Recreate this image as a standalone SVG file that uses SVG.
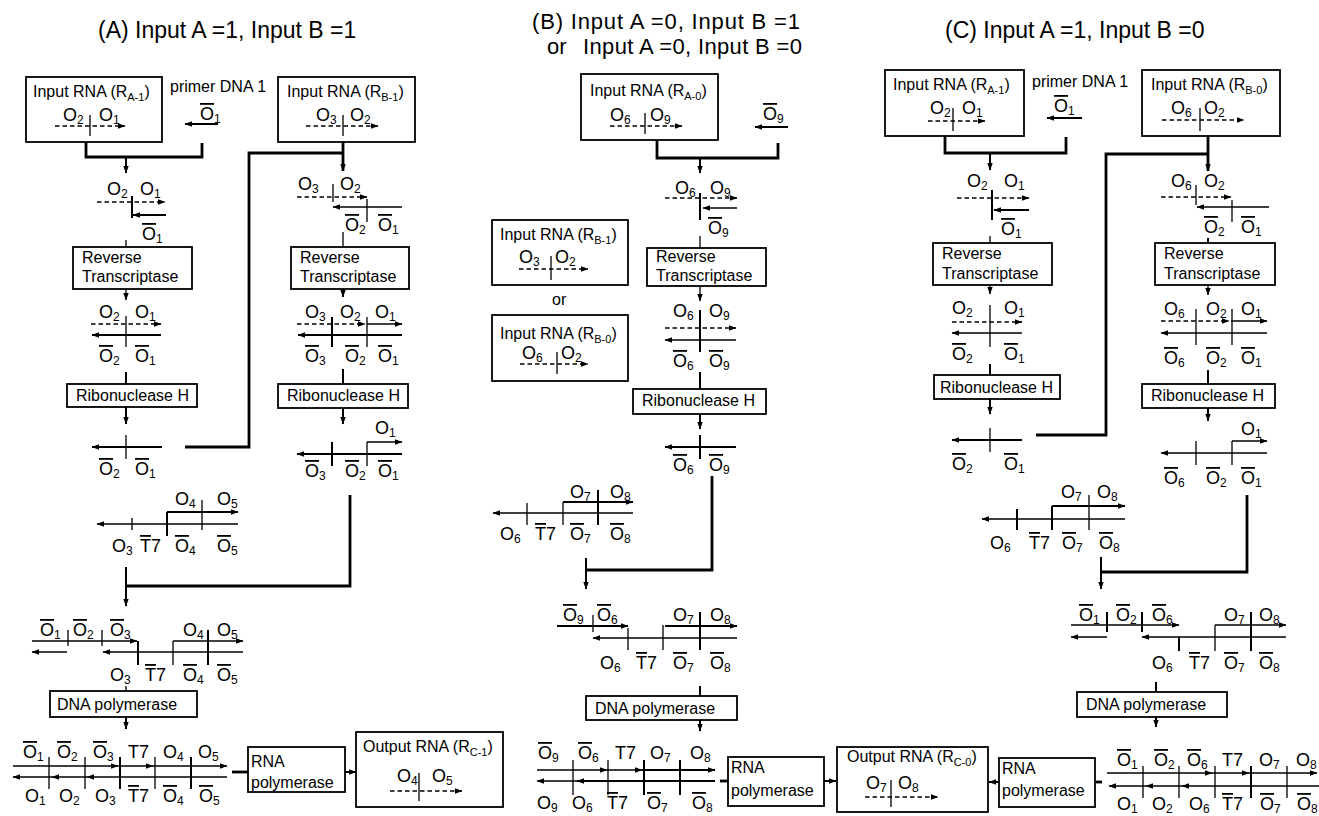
<svg xmlns="http://www.w3.org/2000/svg" width="1319" height="816" viewBox="0 0 1319 816">
<style>
text{font-family:"Liberation Sans",Arial,Helvetica,sans-serif;fill:#000}
.tt{font-size:23px}
.t2{font-size:22px}
.b{font-size:16px}
.bs{font-size:11px}
.o{font-size:18px}
.s{font-size:12px}
.ov{text-decoration:overline}
.bx{fill:#fff;stroke:#000;stroke-width:1.8}
.ln{stroke:#000;stroke-width:1.3;fill:none}
.md{stroke:#000;stroke-width:2;fill:none}
.tk{stroke:#000;stroke-width:2.8;fill:none}
.ds{stroke:#000;stroke-width:1.6;stroke-dasharray:4.5 3;fill:none}
.ar{marker-end:url(#ah)}
</style>
<defs><marker id="ah" markerUnits="userSpaceOnUse" markerWidth="8" markerHeight="6" refX="7" refY="3" orient="auto" viewBox="0 0 8 6"><path d="M0,0.3 L7.5,3 L0,5.7z" fill="#000"/></marker></defs>
<rect width="1319" height="816" fill="#fff"/>
<g id="titles">
<text class="tt" x="98" y="38">(A) Input A =1, Input B =1</text>
<text class="t2" x="532" y="29" textLength="268">(B) Input A =0, Input B =1</text>
<text class="t2" x="547" y="54">or</text><text class="t2" x="583" y="54" textLength="219">Input A =0, Input B =0</text>
<text class="tt" x="945" y="38">(C) Input A =1, Input B =0</text>
</g>
<g id="connectors">
<path class="tk" d="M86,142 V157 H202 V143"/>
<line class="md ar" x1="126" y1="157" x2="126" y2="173"/>
<line class="ln" x1="126" y1="240" x2="126" y2="247"/>
<line class="ln ar" x1="126" y1="289" x2="126" y2="300"/>
<line class="md" x1="126" y1="372" x2="126" y2="384"/>
<line class="md ar" x1="126" y1="407" x2="126" y2="424"/>
<path class="tk" d="M185,447 H249 V153 H343"/>
<path class="tk ar" d="M343,142 V171"/>
<line class="ln" x1="343" y1="232" x2="343" y2="247"/>
<line class="md ar" x1="343" y1="289" x2="343" y2="297"/>
<line class="md" x1="343" y1="369" x2="343" y2="384"/>
<line class="md ar" x1="343" y1="408" x2="343" y2="424"/>
<path class="tk" d="M350,495 V586 H126"/>
<path class="md ar" d="M126,567 V606"/>
<line class="ln" x1="126" y1="686" x2="126" y2="691"/>
<line class="md ar" x1="126" y1="717" x2="126" y2="729"/>
<line class="tk" x1="232" y1="772" x2="248" y2="772"/>
<line class="md ar" x1="345" y1="772" x2="356" y2="772"/>
<path class="tk" d="M657,140 V158 H778 V143"/>
<line class="md ar" x1="700" y1="158" x2="700" y2="173"/>
<line class="ln" x1="700" y1="236" x2="700" y2="248"/>
<line class="ln ar" x1="700" y1="286" x2="700" y2="301"/>
<line class="md" x1="700" y1="372" x2="700" y2="389"/>
<line class="md ar" x1="700" y1="414" x2="700" y2="429"/>
<path class="tk" d="M712,476 V570 H586"/>
<path class="md ar" d="M586,558 V589"/>
<line class="md" x1="700" y1="686" x2="700" y2="696"/>
<line class="md ar" x1="700" y1="720" x2="700" y2="731"/>
<line class="tk" x1="720" y1="781" x2="728" y2="781"/>
<line class="md ar" x1="824" y1="781" x2="836" y2="781"/>
<path class="tk" d="M945,136 V153 H1066 V137"/>
<line class="md ar" x1="990" y1="153" x2="990" y2="170"/>
<line class="ln" x1="990" y1="236" x2="990" y2="243"/>
<line class="ln ar" x1="990" y1="285" x2="990" y2="294"/>
<line class="md" x1="990" y1="364" x2="990" y2="375"/>
<line class="md ar" x1="990" y1="399" x2="990" y2="414"/>
<path class="tk" d="M1036,435 H1106 V154 H1208"/>
<path class="tk ar" d="M1208,136 V171"/>
<line class="md" x1="1208" y1="238" x2="1208" y2="243"/>
<line class="ln ar" x1="1208" y1="285" x2="1208" y2="295"/>
<line class="md" x1="1208" y1="370" x2="1208" y2="384"/>
<line class="md ar" x1="1208" y1="408" x2="1208" y2="421"/>
<path class="tk" d="M1247,495 V572 H1101"/>
<path class="md ar" d="M1101,557 V589"/>
<line class="md" x1="1156" y1="682" x2="1156" y2="692"/>
<line class="md ar" x1="1156" y1="717" x2="1156" y2="727"/>
<line class="tk" x1="1096" y1="782" x2="1102" y2="782"/>
<line class="md ar" x1="999" y1="782" x2="989" y2="782"/>
</g>
<!-- Column A -->
<g id="A_inRA1">
<rect class="bx" x="26" y="77" width="136" height="65"/>
<text class="b" x="33" y="97">Input RNA (R<tspan class="bs" dy="4">A-1</tspan><tspan dy="-4">)</tspan></text>
<text class="o" x="63" y="121">O<tspan class="s" dy="3">2</tspan></text>
<text class="o" x="99" y="121">O<tspan class="s" dy="3">1</tspan></text>
<line class="ds ar" x1="55" y1="126" x2="125" y2="126"/>
<line class="ln" x1="90" y1="115" x2="90" y2="136"/>
</g>
<g id="A_primer">
<text class="b" x="170" y="92">primer DNA 1</text>
<text class="o" x="200" y="120"><tspan class="ov">O</tspan><tspan class="s" dy="3">1</tspan></text>
<line class="md ar" x1="218" y1="124" x2="185" y2="124"/>
</g>
<g id="A_d1">
<text class="o" x="107" y="195">O<tspan class="s" dy="3">2</tspan></text>
<text class="o" x="140" y="195">O<tspan class="s" dy="3">1</tspan></text>
<line class="ds ar" x1="97" y1="202" x2="165" y2="202"/>
<line class="md" x1="132" y1="196" x2="132" y2="218"/>
<line class="md ar" x1="166" y1="215" x2="133" y2="215"/>
<text class="o" x="142" y="240"><tspan class="ov">O</tspan><tspan class="s" dy="3">1</tspan></text>
</g>
<g id="A_rt1"><rect class="bx" x="73" y="247" width="119" height="42"/><text class="b" x="82" y="263">Reverse</text><text class="b" x="82" y="282">Transcriptase</text></g>
<g id="A_d2">
<text class="o" x="99" y="318">O<tspan class="s" dy="3">2</tspan></text>
<text class="o" x="135" y="318">O<tspan class="s" dy="3">1</tspan></text>
<line class="ds ar" x1="91" y1="324" x2="161" y2="324"/>
<line class="md ar" x1="161" y1="335" x2="92" y2="335"/>
<line class="ln" x1="126" y1="316" x2="126" y2="347"/>
<text class="o" x="99" y="362"><tspan class="ov">O</tspan><tspan class="s" dy="3">2</tspan></text>
<text class="o" x="135" y="362"><tspan class="ov">O</tspan><tspan class="s" dy="3">1</tspan></text>
</g>
<g id="A_rh1"><rect class="bx" x="67" y="384" width="130" height="23"/><text class="b" x="76" y="401">Ribonuclease H</text></g>
<g id="A_s1">
<line class="md ar" x1="162" y1="447" x2="92" y2="447"/>
<line class="ln" x1="126" y1="435" x2="126" y2="459"/>
<text class="o" x="99" y="475"><tspan class="ov">O</tspan><tspan class="s" dy="3">2</tspan></text>
<text class="o" x="135" y="475"><tspan class="ov">O</tspan><tspan class="s" dy="3">1</tspan></text>
</g>
<g id="A_inRB1">
<rect class="bx" x="278" y="77" width="137" height="65"/>
<text class="b" x="287" y="97">Input RNA (R<tspan class="bs" dy="4">B-1</tspan><tspan dy="-4">)</tspan></text>
<text class="o" x="316" y="121">O<tspan class="s" dy="3">3</tspan></text>
<text class="o" x="350" y="121">O<tspan class="s" dy="3">2</tspan></text>
<line class="ds ar" x1="306" y1="126" x2="378" y2="126"/>
<line class="ln" x1="343" y1="115" x2="343" y2="136"/>
</g>
<g id="A_d3">
<text class="o" x="298" y="190">O<tspan class="s" dy="3">3</tspan></text>
<text class="o" x="340" y="190">O<tspan class="s" dy="3">2</tspan></text>
<line class="ds ar" x1="297" y1="197" x2="367" y2="197"/>
<line class="ln" x1="333" y1="184" x2="333" y2="202"/>
<line class="ln ar" x1="402" y1="207" x2="333" y2="207"/>
<line class="ln" x1="367" y1="199" x2="367" y2="222"/>
<text class="o" x="345" y="231"><tspan class="ov">O</tspan><tspan class="s" dy="3">2</tspan></text>
<text class="o" x="378" y="231"><tspan class="ov">O</tspan><tspan class="s" dy="3">1</tspan></text>
</g>
<g id="A_rt2"><rect class="bx" x="291" y="247" width="118" height="42"/><text class="b" x="300" y="263">Reverse</text><text class="b" x="300" y="282">Transcriptase</text></g>
<g id="A_d4">
<text class="o" x="305" y="318">O<tspan class="s" dy="3">3</tspan></text>
<text class="o" x="340" y="318">O<tspan class="s" dy="3">2</tspan></text>
<text class="o" x="375" y="318">O<tspan class="s" dy="3">1</tspan></text>
<line class="ds ar" x1="297" y1="324" x2="365" y2="324"/>
<line class="ln ar" x1="367" y1="324" x2="402" y2="324"/>
<line class="md ar" x1="402" y1="335" x2="298" y2="335"/>
<line class="md" x1="332" y1="317" x2="332" y2="347"/>
<line class="ln" x1="367" y1="317" x2="367" y2="347"/>
<text class="o" x="305" y="362"><tspan class="ov">O</tspan><tspan class="s" dy="3">3</tspan></text>
<text class="o" x="345" y="362"><tspan class="ov">O</tspan><tspan class="s" dy="3">2</tspan></text>
<text class="o" x="378" y="362"><tspan class="ov">O</tspan><tspan class="s" dy="3">1</tspan></text>
</g>
<g id="A_rh2"><rect class="bx" x="278" y="384" width="130" height="24"/><text class="b" x="287" y="401">Ribonuclease H</text></g>
<g id="A_s2">
<text class="o" x="375" y="434">O<tspan class="s" dy="3">1</tspan></text>
<line class="ln ar" x1="367" y1="442" x2="402" y2="442"/>
<line class="md ar" x1="402" y1="454" x2="297" y2="454"/>
<line class="md" x1="332" y1="442" x2="332" y2="466"/>
<line class="ln" x1="367" y1="442" x2="367" y2="466"/>
<text class="o" x="305" y="477"><tspan class="ov">O</tspan><tspan class="s" dy="3">3</tspan></text>
<text class="o" x="345" y="477"><tspan class="ov">O</tspan><tspan class="s" dy="3">2</tspan></text>
<text class="o" x="378" y="477"><tspan class="ov">O</tspan><tspan class="s" dy="3">1</tspan></text>
</g>
<g id="A_t7">
<text class="o" x="175" y="505">O<tspan class="s" dy="3">4</tspan></text>
<text class="o" x="217" y="505">O<tspan class="s" dy="3">5</tspan></text>
<line class="md ar" x1="167" y1="512" x2="238" y2="512"/>
<line class="ln ar" x1="238" y1="524" x2="97" y2="524"/>
<line class="ln" x1="132" y1="518" x2="132" y2="530"/>
<line class="md" x1="167" y1="512" x2="167" y2="536"/>
<line class="ln" x1="202" y1="500" x2="202" y2="530"/>
<text class="o" x="112" y="552">O<tspan class="s" dy="3">3</tspan></text>
<text class="o" x="140" y="552"><tspan class="ov">T</tspan>7</text>
<text class="o" x="175" y="552"><tspan class="ov">O</tspan><tspan class="s" dy="3">4</tspan></text>
<text class="o" x="217" y="552"><tspan class="ov">O</tspan><tspan class="s" dy="3">5</tspan></text>
</g>
<g id="A_pre">
<text class="o" x="40" y="636"><tspan class="ov">O</tspan><tspan class="s" dy="3">1</tspan></text>
<text class="o" x="73" y="636"><tspan class="ov">O</tspan><tspan class="s" dy="3">2</tspan></text>
<text class="o" x="110" y="636"><tspan class="ov">O</tspan><tspan class="s" dy="3">3</tspan></text>
<line class="ln ar" x1="32" y1="641" x2="137" y2="641"/>
<line class="ln" x1="68" y1="630" x2="68" y2="646"/>
<line class="ln" x1="102" y1="630" x2="102" y2="646"/>
<line class="ln ar" x1="67" y1="652" x2="32" y2="652"/>
<line class="ln ar" x1="243" y1="652" x2="103" y2="652"/>
<text class="o" x="183" y="636">O<tspan class="s" dy="3">4</tspan></text>
<text class="o" x="217" y="636">O<tspan class="s" dy="3">5</tspan></text>
<line class="ln ar" x1="173" y1="641" x2="243" y2="641"/>
<line class="md" x1="138" y1="641" x2="138" y2="665"/>
<line class="ln" x1="173" y1="641" x2="173" y2="665"/>
<line class="md" x1="208" y1="630" x2="208" y2="665"/>
<text class="o" x="110" y="681">O<tspan class="s" dy="3">3</tspan></text>
<text class="o" x="145" y="681"><tspan class="ov">T</tspan>7</text>
<text class="o" x="183" y="681"><tspan class="ov">O</tspan><tspan class="s" dy="3">4</tspan></text>
<text class="o" x="217" y="681"><tspan class="ov">O</tspan><tspan class="s" dy="3">5</tspan></text>
</g>
<g id="A_dp"><rect class="bx" x="50" y="691" width="147" height="26"/><text class="b" x="57" y="710">DNA polymerase</text></g>
<g id="A_fin">
<text class="o" x="23" y="758"><tspan class="ov">O</tspan><tspan class="s" dy="3">1</tspan></text>
<text class="o" x="57" y="758"><tspan class="ov">O</tspan><tspan class="s" dy="3">2</tspan></text>
<text class="o" x="93" y="758"><tspan class="ov">O</tspan><tspan class="s" dy="3">3</tspan></text>
<text class="o" x="128" y="758">T7</text>
<text class="o" x="163" y="758">O<tspan class="s" dy="3">4</tspan></text>
<text class="o" x="198" y="758">O<tspan class="s" dy="3">5</tspan></text>
<line class="ln ar" x1="13" y1="766" x2="118" y2="766"/>
<line class="ln ar" x1="118" y1="766" x2="153" y2="766"/>
<line class="ln ar" x1="153" y1="766" x2="227" y2="766"/>
<line class="ln ar" x1="227" y1="777" x2="87" y2="777"/>
<line class="ln ar" x1="87" y1="777" x2="52" y2="777"/>
<line class="ln ar" x1="52" y1="777" x2="13" y2="777"/>
<line class="ln" x1="49" y1="757" x2="49" y2="789"/>
<line class="ln" x1="85" y1="757" x2="85" y2="789"/>
<line class="md" x1="120" y1="757" x2="120" y2="789"/>
<line class="ln" x1="155" y1="757" x2="155" y2="789"/>
<line class="md" x1="191" y1="757" x2="191" y2="789"/>
<text class="o" x="25" y="802">O<tspan class="s" dy="3">1</tspan></text>
<text class="o" x="59" y="802">O<tspan class="s" dy="3">2</tspan></text>
<text class="o" x="95" y="802">O<tspan class="s" dy="3">3</tspan></text>
<text class="o" x="128" y="802"><tspan class="ov">T</tspan>7</text>
<text class="o" x="163" y="802"><tspan class="ov">O</tspan><tspan class="s" dy="3">4</tspan></text>
<text class="o" x="199" y="802"><tspan class="ov">O</tspan><tspan class="s" dy="3">5</tspan></text>
</g>
<g id="A_rp"><rect class="bx" x="248" y="747" width="97" height="45"/><text class="b" x="251" y="767">RNA</text><text class="b" x="251" y="788">polymerase</text></g>
<g id="A_out">
<rect class="bx" x="356" y="732" width="147" height="75"/>
<text class="b" x="363" y="752">Output RNA (R<tspan class="bs" dy="4">C-1</tspan><tspan dy="-4">)</tspan></text>
<text class="o" x="397" y="782">O<tspan class="s" dy="3">4</tspan></text>
<text class="o" x="432" y="782">O<tspan class="s" dy="3">5</tspan></text>
<line class="ds ar" x1="390" y1="791" x2="462" y2="791"/>
<line class="ln" x1="419" y1="773" x2="419" y2="801"/>
</g>
<!-- Column B -->
<g id="B_inRA0">
<rect class="bx" x="581" y="74" width="137" height="66"/>
<text class="b" x="590" y="96">Input RNA (R<tspan class="bs" dy="4">A-0</tspan><tspan dy="-4">)</tspan></text>
<text class="o" x="610" y="121">O<tspan class="s" dy="3">6</tspan></text>
<text class="o" x="650" y="121">O<tspan class="s" dy="3">9</tspan></text>
<line class="ln" x1="645" y1="113" x2="645" y2="134"/>
<line class="ds ar" x1="610" y1="126" x2="682" y2="126"/>
</g>
<g id="B_primer">
<text class="o" x="763" y="120"><tspan class="ov">O</tspan><tspan class="s" dy="3">9</tspan></text>
<line class="md ar" x1="788" y1="127" x2="755" y2="127"/>
</g>
<g id="B_d1">
<text class="o" x="675" y="194">O<tspan class="s" dy="3">6</tspan></text>
<text class="o" x="710" y="194">O<tspan class="s" dy="3">9</tspan></text>
<line class="ds ar" x1="665" y1="198" x2="737" y2="198"/>
<line class="md" x1="700" y1="193" x2="700" y2="220"/>
<line class="ln ar" x1="737" y1="208" x2="703" y2="208"/>
<text class="o" x="708" y="234"><tspan class="ov">O</tspan><tspan class="s" dy="3">9</tspan></text>
</g>
<g id="B_rt"><rect class="bx" x="647" y="248" width="119" height="38"/><text class="b" x="656" y="262">Reverse</text><text class="b" x="656" y="281">Transcriptase</text></g>
<g id="B_d2">
<text class="o" x="673" y="317">O<tspan class="s" dy="3">6</tspan></text>
<text class="o" x="709" y="317">O<tspan class="s" dy="3">9</tspan></text>
<line class="ds ar" x1="665" y1="328" x2="736" y2="328"/>
<line class="ln ar" x1="736" y1="340" x2="665" y2="340"/>
<line class="md" x1="700" y1="310" x2="700" y2="352"/>
<text class="o" x="673" y="367"><tspan class="ov">O</tspan><tspan class="s" dy="3">6</tspan></text>
<text class="o" x="709" y="367"><tspan class="ov">O</tspan><tspan class="s" dy="3">9</tspan></text>
</g>
<g id="B_rh"><rect class="bx" x="633" y="389" width="133" height="25"/><text class="b" x="642" y="406">Ribonuclease H</text></g>
<g id="B_s">
<line class="md ar" x1="736" y1="447" x2="665" y2="447"/>
<line class="md" x1="700" y1="435" x2="700" y2="459"/>
<text class="o" x="673" y="471"><tspan class="ov">O</tspan><tspan class="s" dy="3">6</tspan></text>
<text class="o" x="709" y="471"><tspan class="ov">O</tspan><tspan class="s" dy="3">9</tspan></text>
</g>
<g id="B_inRB1">
<rect class="bx" x="492" y="220" width="136" height="65"/>
<text class="b" x="500" y="240">Input RNA (R<tspan class="bs" dy="4">B-1</tspan><tspan dy="-4">)</tspan></text>
<text class="o" x="519" y="263">O<tspan class="s" dy="3">3</tspan></text>
<text class="o" x="555" y="263">O<tspan class="s" dy="3">2</tspan></text>
<line class="ln" x1="551" y1="256" x2="551" y2="280"/>
<line class="ds ar" x1="519" y1="269" x2="588" y2="269"/>
</g>
<g id="B_or"><text class="b" x="552" y="305">or</text></g>
<g id="B_inRB0">
<rect class="bx" x="492" y="315" width="136" height="66"/>
<text class="b" x="500" y="339">Input RNA (R<tspan class="bs" dy="4">B-0</tspan><tspan dy="-4">)</tspan></text>
<text class="o" x="522" y="359">O<tspan class="s" dy="3">6</tspan></text>
<text class="o" x="561" y="359">O<tspan class="s" dy="3">2</tspan></text>
<line class="ln" x1="557" y1="352" x2="557" y2="374"/>
<line class="ds ar" x1="520" y1="364" x2="588" y2="364"/>
</g>
<g id="B_t7">
<text class="o" x="570" y="498">O<tspan class="s" dy="3">7</tspan></text>
<text class="o" x="610" y="498">O<tspan class="s" dy="3">8</tspan></text>
<line class="md ar" x1="563" y1="502" x2="633" y2="502"/>
<line class="ln ar" x1="633" y1="513" x2="493" y2="513"/>
<line class="ln" x1="527" y1="503" x2="527" y2="525"/>
<line class="ln" x1="563" y1="502" x2="563" y2="525"/>
<line class="md" x1="598" y1="490" x2="598" y2="525"/>
<text class="o" x="500" y="540">O<tspan class="s" dy="3">6</tspan></text>
<text class="o" x="535" y="540"><tspan class="ov">T</tspan>7</text>
<text class="o" x="570" y="540"><tspan class="ov">O</tspan><tspan class="s" dy="3">7</tspan></text>
<text class="o" x="610" y="540"><tspan class="ov">O</tspan><tspan class="s" dy="3">8</tspan></text>
</g>
<g id="B_pre">
<text class="o" x="563" y="621"><tspan class="ov">O</tspan><tspan class="s" dy="3">9</tspan></text>
<text class="o" x="597" y="621"><tspan class="ov">O</tspan><tspan class="s" dy="3">6</tspan></text>
<line class="md ar" x1="557" y1="626" x2="628" y2="626"/>
<line class="ln" x1="593" y1="615" x2="593" y2="632"/>
<line class="ln ar" x1="737" y1="638" x2="593" y2="638"/>
<line class="ln" x1="628" y1="628" x2="628" y2="650"/>
<line class="ln" x1="663" y1="625" x2="663" y2="650"/>
<line class="md" x1="700" y1="612" x2="700" y2="650"/>
<text class="o" x="673" y="621">O<tspan class="s" dy="3">7</tspan></text>
<text class="o" x="710" y="621">O<tspan class="s" dy="3">8</tspan></text>
<line class="md ar" x1="665" y1="626" x2="737" y2="626"/>
<text class="o" x="600" y="669">O<tspan class="s" dy="3">6</tspan></text>
<text class="o" x="636" y="669"><tspan class="ov">T</tspan>7</text>
<text class="o" x="673" y="669"><tspan class="ov">O</tspan><tspan class="s" dy="3">7</tspan></text>
<text class="o" x="710" y="669"><tspan class="ov">O</tspan><tspan class="s" dy="3">8</tspan></text>
</g>
<g id="B_dp"><rect class="bx" x="586" y="696" width="151" height="24"/><text class="b" x="595" y="714">DNA polymerase</text></g>
<g id="B_fin">
<text class="o" x="538" y="759"><tspan class="ov">O</tspan><tspan class="s" dy="3">9</tspan></text>
<text class="o" x="578" y="759"><tspan class="ov">O</tspan><tspan class="s" dy="3">6</tspan></text>
<text class="o" x="615" y="759">T7</text>
<text class="o" x="650" y="759">O<tspan class="s" dy="3">7</tspan></text>
<text class="o" x="690" y="759">O<tspan class="s" dy="3">8</tspan></text>
<line class="ln ar" x1="537" y1="770" x2="607" y2="770"/>
<line class="ln ar" x1="607" y1="770" x2="642" y2="770"/>
<line class="md ar" x1="642" y1="770" x2="715" y2="770"/>
<line class="md ar" x1="715" y1="781" x2="577" y2="781"/>
<line class="ln ar" x1="577" y1="781" x2="537" y2="781"/>
<line class="ln" x1="573" y1="760" x2="573" y2="795"/>
<line class="ln" x1="608" y1="760" x2="608" y2="795"/>
<line class="md" x1="644" y1="760" x2="644" y2="795"/>
<line class="md" x1="680" y1="760" x2="680" y2="795"/>
<text class="o" x="537" y="809">O<tspan class="s" dy="3">9</tspan></text>
<text class="o" x="572" y="809">O<tspan class="s" dy="3">6</tspan></text>
<text class="o" x="607" y="809"><tspan class="ov">T</tspan>7</text>
<text class="o" x="647" y="809"><tspan class="ov">O</tspan><tspan class="s" dy="3">7</tspan></text>
<text class="o" x="692" y="809"><tspan class="ov">O</tspan><tspan class="s" dy="3">8</tspan></text>
</g>
<g id="B_rp"><rect class="bx" x="728" y="757" width="96" height="49"/><text class="b" x="731" y="773">RNA</text><text class="b" x="731" y="796">polymerase</text></g>
<g id="B_out">
<rect class="bx" x="837" y="747" width="151" height="65"/>
<text class="b" x="847" y="762">Output RNA (R<tspan class="bs" dy="4">C-0</tspan><tspan dy="-4">)</tspan></text>
<text class="o" x="866" y="789">O<tspan class="s" dy="3">7</tspan></text>
<text class="o" x="898" y="789">O<tspan class="s" dy="3">8</tspan></text>
<line class="ds ar" x1="865" y1="797" x2="938" y2="797"/>
<line class="ln" x1="891" y1="780" x2="891" y2="807"/>
</g>
<!-- Column C -->
<g id="C_inRA1">
<rect class="bx" x="885" y="70" width="139" height="66"/>
<text class="b" x="893" y="90">Input RNA (R<tspan class="bs" dy="4">A-1</tspan><tspan dy="-4">)</tspan></text>
<text class="o" x="930" y="114">O<tspan class="s" dy="3">2</tspan></text>
<text class="o" x="962" y="114">O<tspan class="s" dy="3">1</tspan></text>
<line class="ln" x1="953" y1="108" x2="953" y2="131"/>
<line class="ds ar" x1="928" y1="121" x2="985" y2="121"/>
</g>
<g id="C_primer">
<text class="b" x="1032" y="87">primer DNA 1</text>
<text class="o" x="1054" y="112"><tspan class="ov">O</tspan><tspan class="s" dy="3">1</tspan></text>
<line class="md ar" x1="1082" y1="118" x2="1047" y2="118"/>
</g>
<g id="C_inRB0">
<rect class="bx" x="1142" y="70" width="138" height="66"/>
<text class="b" x="1151" y="90">Input RNA (R<tspan class="bs" dy="4">B-0</tspan><tspan dy="-4">)</tspan></text>
<text class="o" x="1171" y="114">O<tspan class="s" dy="3">6</tspan></text>
<text class="o" x="1204" y="114">O<tspan class="s" dy="3">2</tspan></text>
<line class="ln" x1="1200" y1="108" x2="1200" y2="131"/>
<line class="ds ar" x1="1162" y1="120" x2="1244" y2="120"/>
</g>
<g id="C_d1">
<text class="o" x="967" y="187">O<tspan class="s" dy="3">2</tspan></text>
<text class="o" x="1004" y="187">O<tspan class="s" dy="3">1</tspan></text>
<line class="ds ar" x1="957" y1="198" x2="1029" y2="198"/>
<line class="md" x1="992" y1="190" x2="992" y2="220"/>
<line class="md ar" x1="1029" y1="210" x2="994" y2="210"/>
<text class="o" x="1001" y="235"><tspan class="ov">O</tspan><tspan class="s" dy="3">1</tspan></text>
</g>
<g id="C_rt1"><rect class="bx" x="933" y="243" width="119" height="42"/><text class="b" x="942" y="259">Reverse</text><text class="b" x="942" y="279">Transcriptase</text></g>
<g id="C_d2">
<text class="o" x="952" y="314">O<tspan class="s" dy="3">2</tspan></text>
<text class="o" x="1004" y="314">O<tspan class="s" dy="3">1</tspan></text>
<line class="ds ar" x1="952" y1="322" x2="1022" y2="322"/>
<line class="ln ar" x1="1022" y1="333" x2="952" y2="333"/>
<line class="ln" x1="990" y1="305" x2="990" y2="347"/>
<text class="o" x="952" y="360"><tspan class="ov">O</tspan><tspan class="s" dy="3">2</tspan></text>
<text class="o" x="1004" y="360"><tspan class="ov">O</tspan><tspan class="s" dy="3">1</tspan></text>
</g>
<g id="C_rh1"><rect class="bx" x="934" y="375" width="126" height="24"/><text class="b" x="940" y="393">Ribonuclease H</text></g>
<g id="C_s1">
<line class="md ar" x1="1022" y1="440" x2="952" y2="440"/>
<line class="ln" x1="990" y1="428" x2="990" y2="452"/>
<text class="o" x="952" y="470"><tspan class="ov">O</tspan><tspan class="s" dy="3">2</tspan></text>
<text class="o" x="1004" y="470"><tspan class="ov">O</tspan><tspan class="s" dy="3">1</tspan></text>
</g>
<g id="C_d3">
<text class="o" x="1171" y="187">O<tspan class="s" dy="3">6</tspan></text>
<text class="o" x="1204" y="187">O<tspan class="s" dy="3">2</tspan></text>
<line class="ds ar" x1="1161" y1="197" x2="1231" y2="197"/>
<line class="ln" x1="1196" y1="185" x2="1196" y2="205"/>
<line class="ln ar" x1="1269" y1="207" x2="1197" y2="207"/>
<line class="ln" x1="1232" y1="200" x2="1232" y2="222"/>
<text class="o" x="1204" y="233"><tspan class="ov">O</tspan><tspan class="s" dy="3">2</tspan></text>
<text class="o" x="1241" y="233"><tspan class="ov">O</tspan><tspan class="s" dy="3">1</tspan></text>
</g>
<g id="C_rt2"><rect class="bx" x="1155" y="243" width="120" height="42"/><text class="b" x="1164" y="259">Reverse</text><text class="b" x="1164" y="279">Transcriptase</text></g>
<g id="C_d4">
<text class="o" x="1164" y="315">O<tspan class="s" dy="3">6</tspan></text>
<text class="o" x="1206" y="315">O<tspan class="s" dy="3">2</tspan></text>
<text class="o" x="1241" y="315">O<tspan class="s" dy="3">1</tspan></text>
<line class="ds ar" x1="1161" y1="321" x2="1229" y2="321"/>
<line class="ln ar" x1="1231" y1="321" x2="1267" y2="321"/>
<line class="ln ar" x1="1267" y1="333" x2="1161" y2="333"/>
<line class="ln" x1="1196" y1="309" x2="1196" y2="345"/>
<line class="ln" x1="1232" y1="309" x2="1232" y2="345"/>
<text class="o" x="1164" y="364"><tspan class="ov">O</tspan><tspan class="s" dy="3">6</tspan></text>
<text class="o" x="1206" y="364"><tspan class="ov">O</tspan><tspan class="s" dy="3">2</tspan></text>
<text class="o" x="1241" y="364"><tspan class="ov">O</tspan><tspan class="s" dy="3">1</tspan></text>
</g>
<g id="C_rh2"><rect class="bx" x="1142" y="384" width="133" height="24"/><text class="b" x="1151" y="401">Ribonuclease H</text></g>
<g id="C_s2">
<text class="o" x="1241" y="435">O<tspan class="s" dy="3">1</tspan></text>
<line class="ln ar" x1="1232" y1="441" x2="1267" y2="441"/>
<line class="ln ar" x1="1267" y1="453" x2="1161" y2="453"/>
<line class="ln" x1="1196" y1="441" x2="1196" y2="465"/>
<line class="ln" x1="1232" y1="441" x2="1232" y2="465"/>
<text class="o" x="1164" y="484"><tspan class="ov">O</tspan><tspan class="s" dy="3">6</tspan></text>
<text class="o" x="1206" y="484"><tspan class="ov">O</tspan><tspan class="s" dy="3">2</tspan></text>
<text class="o" x="1241" y="484"><tspan class="ov">O</tspan><tspan class="s" dy="3">1</tspan></text>
</g>
<g id="C_t7">
<text class="o" x="1061" y="498">O<tspan class="s" dy="3">7</tspan></text>
<text class="o" x="1097" y="498">O<tspan class="s" dy="3">8</tspan></text>
<line class="md ar" x1="1052" y1="506" x2="1125" y2="506"/>
<line class="ln ar" x1="1125" y1="519" x2="982" y2="519"/>
<line class="md" x1="1017" y1="509" x2="1017" y2="530"/>
<line class="md" x1="1052" y1="506" x2="1052" y2="530"/>
<line class="ln" x1="1089" y1="495" x2="1089" y2="530"/>
<text class="o" x="990" y="549">O<tspan class="s" dy="3">6</tspan></text>
<text class="o" x="1029" y="549"><tspan class="ov">T</tspan>7</text>
<text class="o" x="1062" y="549"><tspan class="ov">O</tspan><tspan class="s" dy="3">7</tspan></text>
<text class="o" x="1099" y="549"><tspan class="ov">O</tspan><tspan class="s" dy="3">8</tspan></text>
</g>
<g id="C_pre">
<text class="o" x="1079" y="621"><tspan class="ov">O</tspan><tspan class="s" dy="3">1</tspan></text>
<text class="o" x="1116" y="621"><tspan class="ov">O</tspan><tspan class="s" dy="3">2</tspan></text>
<text class="o" x="1152" y="621"><tspan class="ov">O</tspan><tspan class="s" dy="3">6</tspan></text>
<line class="ln ar" x1="1071" y1="625" x2="1179" y2="625"/>
<line class="md" x1="1107" y1="612" x2="1107" y2="632"/>
<line class="md" x1="1142" y1="612" x2="1142" y2="632"/>
<line class="ln ar" x1="1107" y1="637" x2="1071" y2="637"/>
<line class="ln ar" x1="1286" y1="637" x2="1142" y2="637"/>
<text class="o" x="1224" y="621">O<tspan class="s" dy="3">7</tspan></text>
<text class="o" x="1259" y="621">O<tspan class="s" dy="3">8</tspan></text>
<line class="ln ar" x1="1215" y1="625" x2="1286" y2="625"/>
<line class="md" x1="1179" y1="637" x2="1179" y2="651"/>
<line class="ln" x1="1215" y1="625" x2="1215" y2="651"/>
<line class="md" x1="1251" y1="612" x2="1251" y2="651"/>
<text class="o" x="1152" y="669">O<tspan class="s" dy="3">6</tspan></text>
<text class="o" x="1189" y="669"><tspan class="ov">T</tspan>7</text>
<text class="o" x="1224" y="669"><tspan class="ov">O</tspan><tspan class="s" dy="3">7</tspan></text>
<text class="o" x="1259" y="669"><tspan class="ov">O</tspan><tspan class="s" dy="3">8</tspan></text>
</g>
<g id="C_dp"><rect class="bx" x="1077" y="692" width="150" height="25"/><text class="b" x="1086" y="710">DNA polymerase</text></g>
<g id="C_fin">
<text class="o" x="1117" y="766"><tspan class="ov">O</tspan><tspan class="s" dy="3">1</tspan></text>
<text class="o" x="1154" y="766"><tspan class="ov">O</tspan><tspan class="s" dy="3">2</tspan></text>
<text class="o" x="1187" y="766"><tspan class="ov">O</tspan><tspan class="s" dy="3">6</tspan></text>
<text class="o" x="1222" y="766">T7</text>
<text class="o" x="1259" y="766">O<tspan class="s" dy="3">7</tspan></text>
<text class="o" x="1296" y="766">O<tspan class="s" dy="3">8</tspan></text>
<line class="ln ar" x1="1107" y1="773" x2="1212" y2="773"/>
<line class="ln ar" x1="1212" y1="773" x2="1249" y2="773"/>
<line class="ln ar" x1="1249" y1="773" x2="1317" y2="773"/>
<line class="ln ar" x1="1319" y1="786" x2="1182" y2="786"/>
<line class="ln ar" x1="1182" y1="786" x2="1146" y2="786"/>
<line class="ln ar" x1="1146" y1="786" x2="1109" y2="786"/>
<line class="ln" x1="1143" y1="766" x2="1143" y2="798"/>
<line class="ln" x1="1179" y1="766" x2="1179" y2="798"/>
<line class="ln" x1="1215" y1="766" x2="1215" y2="798"/>
<line class="md" x1="1251" y1="766" x2="1251" y2="798"/>
<line class="ln" x1="1287" y1="766" x2="1287" y2="798"/>
<text class="o" x="1117" y="810">O<tspan class="s" dy="3">1</tspan></text>
<text class="o" x="1152" y="810">O<tspan class="s" dy="3">2</tspan></text>
<text class="o" x="1189" y="810">O<tspan class="s" dy="3">6</tspan></text>
<text class="o" x="1222" y="810"><tspan class="ov">T</tspan>7</text>
<text class="o" x="1260" y="810"><tspan class="ov">O</tspan><tspan class="s" dy="3">7</tspan></text>
<text class="o" x="1297" y="810"><tspan class="ov">O</tspan><tspan class="s" dy="3">8</tspan></text>
</g>
<g id="C_rp"><rect class="bx" x="999" y="758" width="96" height="49"/><text class="b" x="1002" y="774">RNA</text><text class="b" x="1002" y="796">polymerase</text></g>
</svg>
